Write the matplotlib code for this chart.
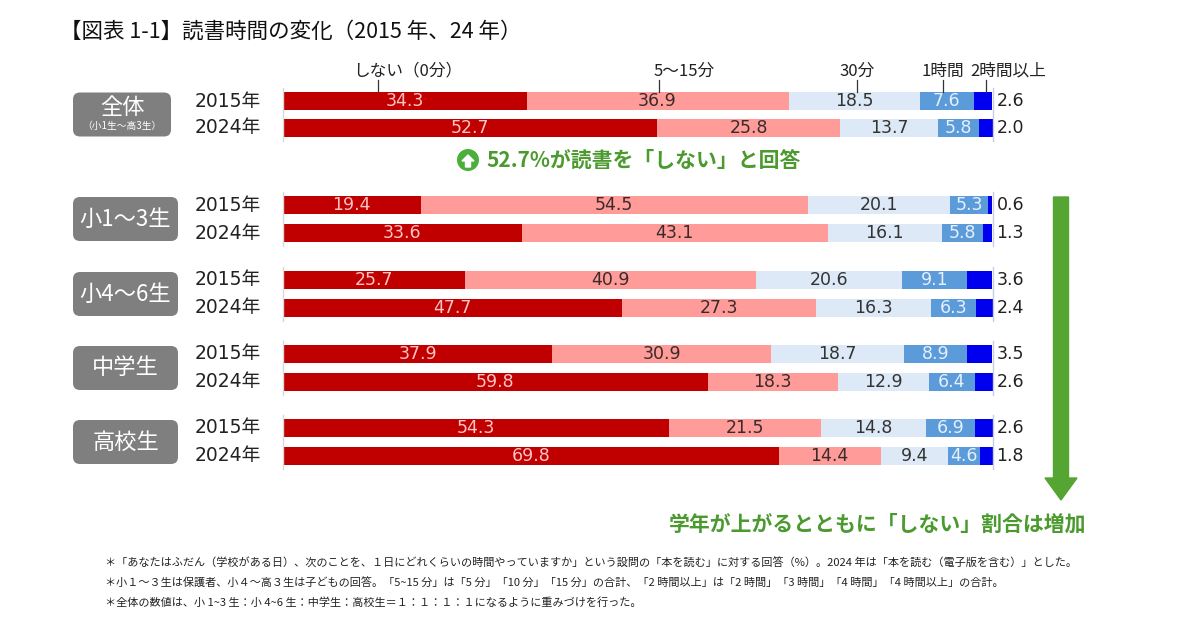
import matplotlib.pyplot as plt
from matplotlib.patches import FancyBboxPatch, Circle, FancyArrow

plt.rcParams['font.family'] = ['Noto Sans CJK JP', 'DejaVu Sans']

# データ（%）
categories = ['しない（0分）', '5〜15分', '30分', '1時間', '2時間以上']
groups = ['全体', '小1〜3生', '小4〜6生', '中学生', '高校生']
years = ['2015年', '2024年']

zentai = [[34.3, 36.9, 18.5, 7.6, 2.6], [52.7, 25.8, 13.7, 5.8, 2.0]]
sho13 = [[19.4, 54.5, 20.1, 5.3, 0.6], [33.6, 43.1, 16.1, 5.8, 1.3]]
sho46 = [[25.7, 40.9, 20.6, 9.1, 3.6], [47.7, 27.3, 16.3, 6.3, 2.4]]
chugaku = [[37.9, 30.9, 18.7, 8.9, 3.5], [59.8, 18.3, 12.9, 6.4, 2.6]]
koko = [[54.3, 21.5, 14.8, 6.9, 2.6], [69.8, 14.4, 9.4, 4.6, 1.8]]
all_data = [zentai, sho13, sho46, chugaku, koko]

colors = ['#c00000', '#ff9b98', '#dde9f6', '#5b9bd9', '#0000ee']
txt_colors = ['#ffc4c4', '#3a2a2a', '#333333', '#e6f0fa', '#333333']
green = '#4a9a2e'
num_font = ['DejaVu Sans', 'Noto Sans CJK JP']

W, H = 1200, 626
fig = plt.figure(figsize=(W / 100, H / 100), dpi=100)
fig.patch.set_facecolor('white')

# 注釈用の座標系（ピクセル）
ov = fig.add_axes([0, 0, 1, 1])
ov.set_xlim(0, W)
ov.set_ylim(H, 0)
ov.axis('off')

# 棒グラフの座標系（0〜100%）
x0, x1 = 283, 993
ax = fig.add_axes([x0 / W, 0, (x1 - x0) / W, 1])
ax.set_xlim(0, 100)
ax.set_ylim(H, 0)
ax.axis('off')

row_y = [[101, 128], [205, 233], [280, 308], [354, 382], [428, 456]]
bar_h = 18

for g, (gname, gdata) in enumerate(zip(groups, all_data)):
    for r, vals in enumerate(gdata):
        y = row_y[g][r]
        left = 0
        for k, v in enumerate(vals):
            ax.barh(y, v, left=left, height=bar_h, color=colors[k], edgecolor='none')
            if k < 4:
                ax.text(left + v / 2, y, f'{v:.1f}', ha='center', va='center',
                        fontsize=12.5, color=txt_colors[k], family=num_font)
            else:
                ax.text(100.5, y, f'{v:.1f}', ha='left', va='center', fontsize=12.5,
                        color='#222222', clip_on=False, family=num_font)
            left += v
        ov.text(228, y, years[r], ha='center', va='center', fontsize=13.5,
                color='#222222', family=num_font)
    ytop = row_y[g][0] - bar_h / 2 - 4
    ybot = row_y[g][1] + bar_h / 2 + 4
    ax.plot([0, 0], [ytop, ybot], color='#d8d8d8', lw=1, clip_on=False)
    ax.plot([100, 100], [ytop, ybot], color='#c8cde6', lw=1, clip_on=False)

    # グループ名の箱
    yc = (row_y[g][0] + row_y[g][1]) / 2
    bw = 98 if g == 0 else 105
    box = FancyBboxPatch((73, yc - 22), bw, 44, boxstyle='round,pad=0,rounding_size=7',
                         facecolor='#7f7f7f', edgecolor='none')
    ov.add_patch(box)
    if g == 0:
        ov.text(73 + bw / 2, yc - 7, gname, ha='center', va='center', fontsize=16,
                color='white')
        ov.text(73 + bw / 2, yc + 12, '（小1生〜高3生）', ha='center', va='center',
                fontsize=7, color='white')
    else:
        ov.text(73 + bw / 2, yc, gname, ha='center', va='center', fontsize=16,
                color='white')

# 上部のカテゴリ見出し
head_x = [13.4, 53.0, 80.8, 93.0, 99.0]
head_txt_x = [17.5, 56.5, 80.8, 93.0, 102.2]
for cx, tx, name in zip(head_x, head_txt_x, categories):
    ax.text(tx, 71, name, ha='center', va='center', fontsize=12, color='#222222',
            clip_on=False)
    ax.plot([cx, cx], [80, 92], color='#333333', lw=0.9, clip_on=False)

# タイトル
ov.text(60, 32, '【図表 1-1】読書時間の変化（2015 年、24 年）', ha='left', va='center',
        fontsize=15.5, color='#111111')

# 52.7% のコメント
ov.add_patch(Circle((468, 160), 11, facecolor='#4caf3a', edgecolor='none'))
ov.add_patch(FancyArrow(468, 167, 0, -12, width=5, head_width=12, head_length=6,
                        length_includes_head=True, color='white'))
ov.text(486, 160, '52.7%が読書を「しない」と回答', ha='left', va='center',
        fontsize=15, fontweight='bold', color=green)

# 右側の矢印
ov.add_patch(FancyArrow(1061, 197, 0, 303, width=15, head_width=32, head_length=22,
                        length_includes_head=True, color='#55a532'))
ov.text(1086, 524, '学年が上がるとともに「しない」割合は増加', ha='right', va='center',
        fontsize=15, fontweight='bold', color=green)

# 注記
notes = [
    '＊「あなたはふだん（学校がある日）、次のことを、１日にどれくらいの時間やっていますか」という設問の「本を読む」に対する回答（%）。2024 年は「本を読む（電子版を含む）」とした。',
    '＊小１～３生は保護者、小４～高３生は子どもの回答。「5~15 分」は「5 分」「10 分」「15 分」の合計、「2 時間以上」は「2 時間」「3 時間」「4 時間」「4 時間以上」の合計。',
    '＊全体の数値は、小 1~3 生：小 4~6 生：中学生：高校生＝１：１：１：１になるように重みづけを行った。',
]
for i, t in enumerate(notes):
    ov.text(105, 563 + i * 20, t, ha='left', va='center', fontsize=8, color='#222222')

fig.savefig('out.png', dpi=100)
